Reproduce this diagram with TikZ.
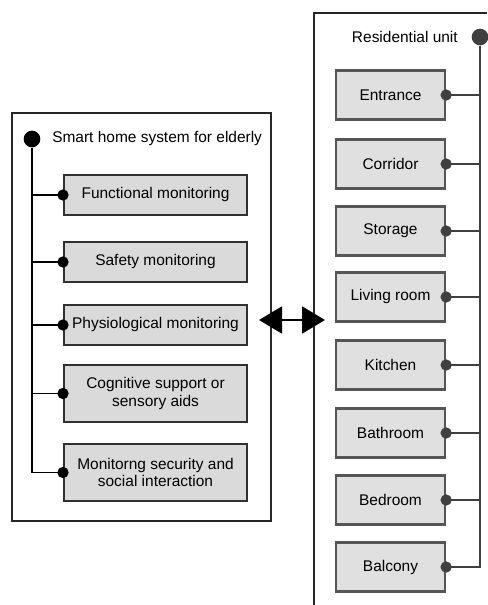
\documentclass[tikz,border=0pt]{standalone}
\usepackage{fontspec}
\setmainfont{Liberation Sans}
\usetikzlibrary{arrows.meta}
\definecolor{boxfillL}{HTML}{DADADA}
\definecolor{boxfillR}{HTML}{E0E0E0}
\definecolor{boxlineL}{HTML}{303030}
\definecolor{boxlineR}{HTML}{555555}
\definecolor{lineR}{HTML}{404040}
\tikzset{
  leafL/.style={draw=boxlineL, fill=boxfillL, line width=1.5pt, minimum width=137.25pt,
    inner sep=0pt, align=center, font=\fontsize{11.6}{13.2}\selectfont},
  leafR/.style={draw=boxlineR, fill=boxfillR, line width=1.7pt, minimum width=81.75pt,
    minimum height=36.75pt, inner sep=0pt, align=center, font=\fontsize{11.6}{13.2}\selectfont},
  bigdot/.style={circle, fill=#1, inner sep=0pt, minimum size=12.5pt},
  smalldot/.style={circle, fill=#1, inner sep=0pt, minimum size=8.5pt},
  conL/.style={draw=black, line width=1.2pt},
  conR/.style={draw=lineR, line width=1.2pt},
  lbl/.style={font=\fontsize{11.6}{13.2}\selectfont, inner sep=0pt},
}
\begin{document}
\begin{tikzpicture}[x=0.75pt, y=-0.75pt]
\useasboundingbox (0,0) rectangle (487,605);
% left frame
\node[draw=black!85, line width=1pt, minimum width=194.25pt, minimum height=306pt, inner sep=0pt] (lframe) at (141.5,317) {};
% right frame (open to the right and bottom)
\coordinate (rfb) at (314,605);
\coordinate (rft) at (314,13);
\coordinate (rfr) at (487,13);
\draw[draw=black!85, line width=1.1pt] (rfb) -- (rft) -- (rfr);

% left tree
\node[bigdot=black] (lroot) at (32,139) {};
\node[lbl, anchor=west] (ltitle) at (52,139) {Smart home system for elderly};
\node[leafL, minimum height=30pt] (b1) at (155.5,195) {Functional monitoring};
\node[leafL, minimum height=30pt] (b2) at (155.5,262) {Safety monitoring};
\node[leafL, minimum height=30pt] (b3) at (155.5,325) {Physiological monitoring};
\node[leafL, minimum height=42.75pt] (b4) at (155.5,393.5) {Cognitive support or\\sensory aids};
\node[leafL, minimum height=42.75pt] (b5) at (155.5,472.5) {Monitorng security and\\social interaction};
\foreach \b in {b1,b2,b3,b4,b5}{
  \draw[conL] (lroot) |- (\b.west);
  \node[smalldot=black] at (\b.west) {};
}

% right tree
\node[bigdot=lineR] (rroot) at (480,37) {};
\node[lbl, anchor=east] (rtitle) at (458,37) {Residential unit};
\node[leafR] (r1) at (390.5,95) {Entrance};
\node[leafR] (r2) at (390.5,164) {Corridor};
\node[leafR] (r3) at (390.5,231) {Storage};
\node[leafR] (r4) at (390.5,297) {Living room};
\node[leafR] (r5) at (390.5,365) {Kitchen};
\node[leafR] (r6) at (390.5,433) {Bathroom};
\node[leafR] (r7) at (390.5,500) {Bedroom};
\node[leafR] (r8) at (390.5,567) {Balcony};
\foreach \r in {r1,r2,r3,r4,r5,r6,r7,r8}{
  \draw[conR] (rroot) |- (\r.east);
  \node[smalldot=lineR] at (\r.east) {};
}

% double arrow
\coordinate (aL) at (259,320);
\coordinate (aR) at (325,320);
\draw[line width=1.5pt, {Triangle[width=20.25pt,length=17.25pt]}-{Triangle[width=20.25pt,length=17.25pt]}] (aL) -- (aR);
\end{tikzpicture}
\end{document}
